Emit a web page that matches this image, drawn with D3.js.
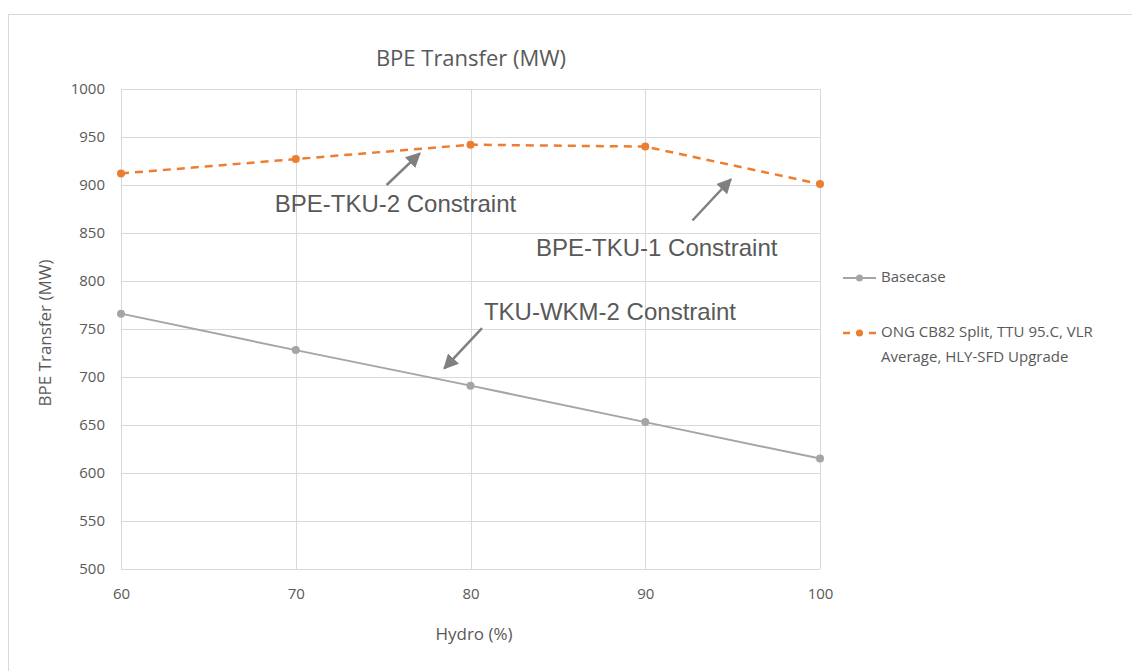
<!DOCTYPE html>
<html>
<head>
<meta charset="utf-8">
<script src="https://cdn.jsdelivr.net/npm/d3@7"></script>
<style>
  body { margin: 0; background: #fff; }
  svg text { font-family: "Open Sans", "Noto Sans", sans-serif; fill: #595959; }
  svg text.note { font-family: "Liberation Sans", Arial, sans-serif; }
</style>
</head>
<body>
<div id="chart"></div>
<script>
const hydro = [60, 70, 80, 90, 100];
const basecase = [766, 728, 691, 653, 615];
const upgrade = [912, 927, 942, 940, 901];
const yTicks = [500, 550, 600, 650, 700, 750, 800, 850, 900, 950, 1000];
const seriesNames = ['Basecase', 'ONG CB82 Split, TTU 95.C, VLR', 'Average, HLY-SFD Upgrade'];
// annotation text and arrows in data units (x = hydro %, y = MW)
const notes = [
  { text: 'BPE-TKU-2 Constraint', x: 68.8, y: 878, from: [75.2, 900], to: [77.1, 933] },
  { text: 'BPE-TKU-1 Constraint', x: 83.75, y: 833, from: [92.7, 863], to: [94.9, 906] },
  { text: 'TKU-WKM-2 Constraint', x: 80.77, y: 766, from: [80.66, 751], to: [78.5, 709] }
];

const width = 1132, height = 671;
const margin = { top: 89, right: 312, bottom: 102, left: 121 };

const svg = d3.select('#chart').append('svg')
  .attr('width', width).attr('height', height);

svg.append('rect')
  .attr('x', 8.5).attr('y', 14.5).attr('width', 1140).attr('height', 700)
  .attr('fill', 'none').attr('stroke', '#d9d9d9');

const x = d3.scaleLinear().domain([60, 100]).range([margin.left, width - margin.right]);
const y = d3.scaleLinear().domain([500, 1000]).range([height - margin.bottom, margin.top]);

// gridlines
svg.append('g').selectAll('line').data(yTicks).join('line')
  .attr('x1', x(60)).attr('x2', x(100))
  .attr('y1', d => Math.round(y(d)) + 0.5).attr('y2', d => Math.round(y(d)) + 0.5)
  .attr('stroke', '#d9d9d9');
svg.append('g').selectAll('line').data(hydro).join('line')
  .attr('y1', y(500)).attr('y2', y(1000))
  .attr('x1', d => Math.round(x(d)) + 0.5).attr('x2', d => Math.round(x(d)) + 0.5)
  .attr('stroke', '#d9d9d9');

// axes
const yAxis = svg.append('g')
  .attr('transform', `translate(${x(60)},0)`)
  .call(d3.axisLeft(y).tickValues(yTicks).tickFormat(d3.format('d')).tickSize(0).tickPadding(16));
yAxis.select('.domain').remove();
yAxis.selectAll('text').attr('font-size', 15).style('font-family', '"Open Sans", sans-serif').attr('fill', '#595959');

const xAxis = svg.append('g')
  .attr('transform', `translate(0,${y(500)})`)
  .call(d3.axisBottom(x).tickValues(hydro).tickSize(0).tickPadding(19));
xAxis.select('.domain').remove();
xAxis.selectAll('text').attr('font-size', 15).style('font-family', '"Open Sans", sans-serif').attr('fill', '#595959');

// series
const line = d3.line().x(d => x(d[0])).y(d => y(d[1]));
const basePts = hydro.map((h, i) => [h, basecase[i]]);
const upPts = hydro.map((h, i) => [h, upgrade[i]]);

svg.append('path').datum(basePts).attr('d', line)
  .attr('fill', 'none').attr('stroke', '#a5a5a5').attr('stroke-width', 2);
svg.append('g').selectAll('circle').data(basePts).join('circle')
  .attr('cx', d => x(d[0])).attr('cy', d => y(d[1])).attr('r', 4).attr('fill', '#a5a5a5');

svg.append('path').datum(upPts).attr('d', line)
  .attr('fill', 'none').attr('stroke', '#ed7d31').attr('stroke-width', 2.5)
  .attr('stroke-dasharray', '8,6');
svg.append('g').selectAll('circle').data(upPts).join('circle')
  .attr('cx', d => x(d[0])).attr('cy', d => y(d[1])).attr('r', 4).attr('fill', '#ed7d31');

// title and axis labels
svg.append('text').attr('x', 471).attr('y', 66).attr('text-anchor', 'middle')
  .attr('font-size', 22).text('BPE Transfer (MW)');
svg.append('text').attr('x', 474).attr('y', 640).attr('text-anchor', 'middle')
  .attr('font-size', 17).text('Hydro (%)');
svg.append('text').attr('transform', 'translate(51,333) rotate(-90)').attr('text-anchor', 'middle')
  .attr('font-size', 17).text('BPE Transfer (MW)');

// annotations
svg.append('defs').append('marker')
  .attr('id', 'head').attr('viewBox', '0 0 10 10').attr('refX', 9).attr('refY', 5)
  .attr('markerWidth', 6).attr('markerHeight', 6).attr('orient', 'auto')
  .append('path').attr('d', 'M0,0 L10,5 L0,10 z').attr('fill', '#808080');

notes.forEach(n => {
  svg.append('text').attr('class', 'note')
    .attr('x', x(n.x)).attr('y', y(n.y)).attr('font-size', 24)
    .attr('dominant-baseline', 'middle').text(n.text);
  svg.append('line')
    .attr('x1', x(n.from[0])).attr('y1', y(n.from[1]))
    .attr('x2', x(n.to[0])).attr('y2', y(n.to[1]))
    .attr('stroke', '#808080').attr('stroke-width', 2.5)
    .attr('marker-end', 'url(#head)');
});

// legend
const lg = svg.append('g').attr('transform', 'translate(843,0)');
lg.append('line').attr('x1', 0).attr('x2', 33).attr('y1', 278).attr('y2', 278)
  .attr('stroke', '#a5a5a5').attr('stroke-width', 2);
lg.append('circle').attr('cx', 16.5).attr('cy', 278).attr('r', 3.5).attr('fill', '#a5a5a5');
lg.append('text').attr('x', 38).attr('y', 278).attr('dominant-baseline', 'middle')
  .attr('font-size', 15).text(seriesNames[0]);

lg.append('line').attr('x1', 0).attr('x2', 33).attr('y1', 333).attr('y2', 333)
  .attr('stroke', '#ed7d31').attr('stroke-width', 2.5).attr('stroke-dasharray', '7,6');
lg.append('circle').attr('cx', 16.5).attr('cy', 333).attr('r', 3.5).attr('fill', '#ed7d31');
lg.append('text').attr('x', 38).attr('y', 333).attr('dominant-baseline', 'middle')
  .attr('font-size', 15).text(seriesNames[1]);
lg.append('text').attr('x', 38).attr('y', 358).attr('dominant-baseline', 'middle')
  .attr('font-size', 15).text(seriesNames[2]);
</script>
</body>
</html>
